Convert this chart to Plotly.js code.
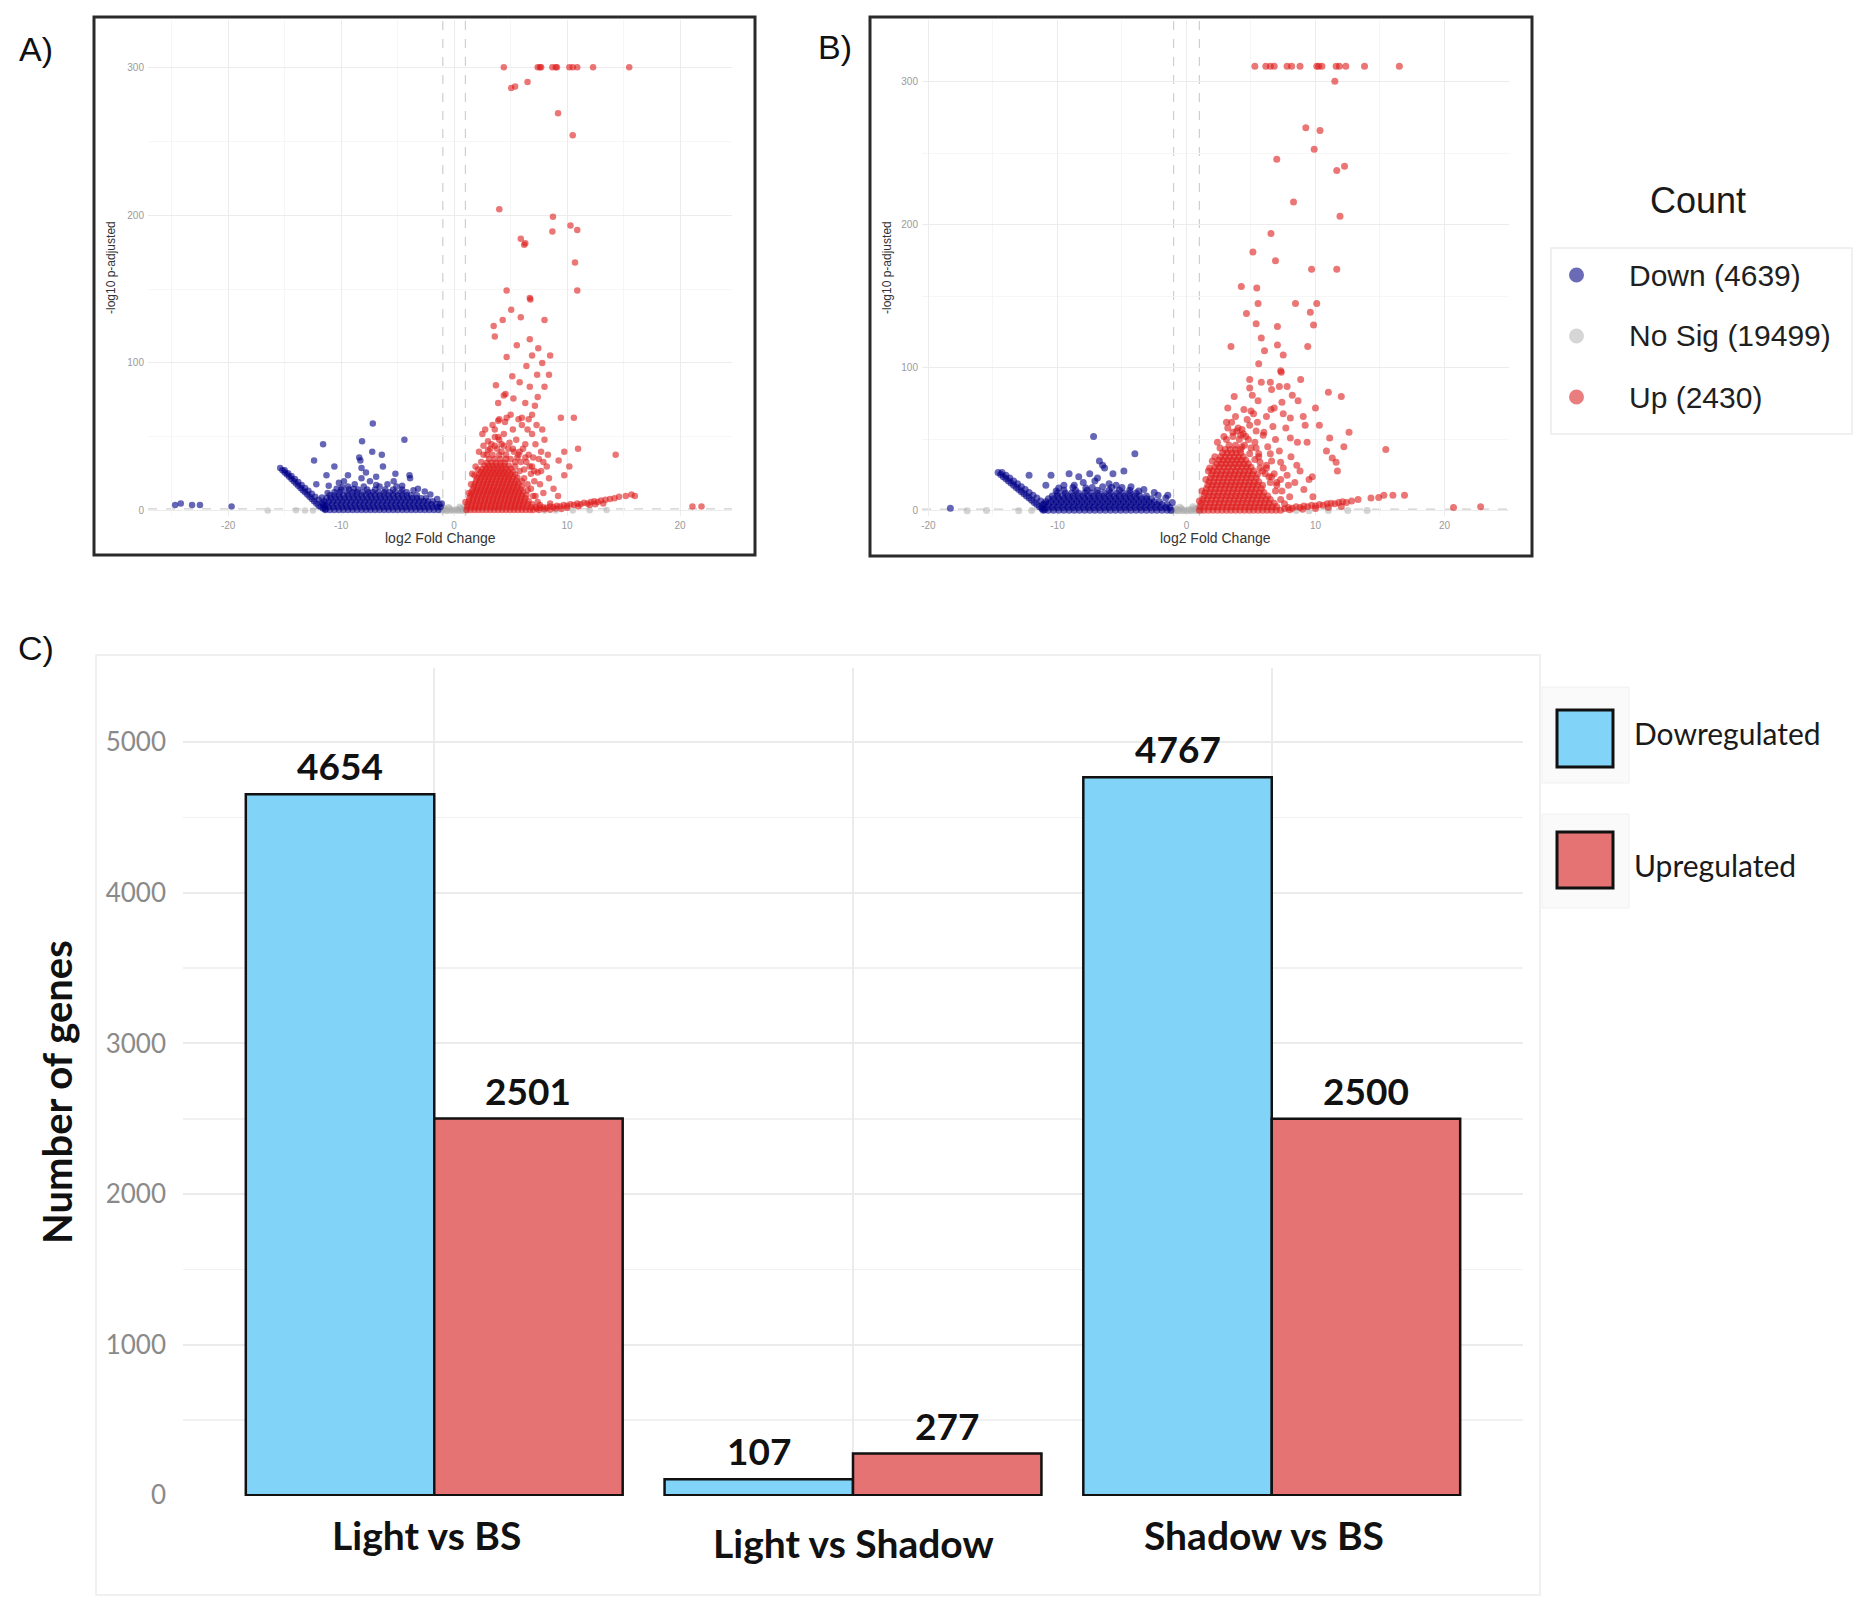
<!DOCTYPE html>
<html>
<head>
<meta charset="utf-8">
<script src="https://cdn.plot.ly/plotly-3.0.1.min.js"></script>
<style>
  html, body { margin: 0; padding: 0; background: #ffffff; }
  #fig { width: 1866px; height: 1606px; }
</style>
</head>
<body>
<div id="fig"></div>
<script>
// ---------------- Volcano plot A: log2 fold change vs -log10 adjusted p ----------------
// isolated points as [log2FC, -log10 padj]; dense bands as [y, [x, x, ...]]
const aNsPts = [[-1.0,0.5],[-0.8,1.0],[-0.6,0.3],[-0.4,1.5],[-0.2,0.7],[0.0,0.2],[0.2,1.1],[0.4,0.4],[0.6,1.6],[0.8,0.6],[1.0,0.9],[-0.9,2.0],[0.9,2.2],[-0.5,2.5],[0.5,2.8],[-12.5,0.3],[-13.2,0.2],[-14.0,0.4],[-16.5,0.2],[8.0,0.3],[9.0,0.2],[10.5,0.3],[12.0,0.4],[13.5,0.5],[1.1,0.3],[-1.1,0.2],[-0.3,0.1],[0.3,0.2],[-0.7,0.1],[0.7,0.1]];

const aDownPts = [[-24.7,4],[-24.2,5],[-23.2,4],[-22.5,4],[-19.7,3],
  [-15.4,29],[-15.2,27.5],[-15.0,26],[-14.8,24.5],[-14.6,23],[-14.4,21.5],[-14.2,20],[-14.0,18.5],[-13.8,17],[-13.6,15.5],[-13.4,14],[-13.2,12.5],[-13.0,11],[-12.8,9.5],[-12.6,8],[-12.4,6.5],[-12.2,5],[-12.0,3.5],[-11.8,2.5],[-11.6,1.5],[-11.4,1],
  [-15.0,27.5],[-14.7,25.5],[-14.4,23.5],[-14.1,21.5],[-13.8,19.5],[-13.5,17.5],[-13.2,15.5],[-12.9,13.5],[-12.6,11.5],[-12.3,9.5],[-12.0,7.5],[-11.7,5.5],[-11.4,3.5],
  [-7.2,59],[-4.4,48],[-8.15,47],[-11.6,45],[-7.25,40],[-6.4,38],[-12.4,34],[-8.4,36],[-8.3,34],[-10.6,30],[-8.2,29],[-6.3,30],[-9.4,24],[-11.3,24],[-5.2,25],[-3.95,24],[-3.9,22],[-8.2,22],[-7.45,20],[-9.75,20],[-12.2,18],[-11.1,17],[-8.9,15],[-5.35,20],[-7.8,26],[-6.9,23],[-5.9,18],[-10.2,19],[-4.6,17],[-3.2,15],[-2.6,13],[-9.9,16],
  [-1.1,5],[-1.5,8],[-2.1,11],[-3.6,14],[-6.9,17.5],[-8.8,18],[-10.4,15],[-11.2,12],[-11.7,9]];
const aDownRows = [
  [0.5, [-11.4,-11.0,-10.6,-10.2,-9.8,-9.4,-9.0,-8.6,-8.2,-7.8,-7.4,-7.0,-6.6,-6.2,-5.8,-5.4,-5.0,-4.6,-4.2,-3.8,-3.4,-3.0,-2.6,-2.2,-1.8,-1.4]],
  [2.5, [-11.5,-11.1,-10.7,-10.3,-9.9,-9.5,-9.1,-8.7,-8.3,-7.9,-7.5,-7.1,-6.7,-6.3,-5.9,-5.5,-5.1,-4.7,-4.3,-3.9,-3.5,-3.1,-2.7,-2.3,-1.9,-1.5,-1.2]],
  [4.5, [-11.6,-11.2,-10.8,-10.4,-10.0,-9.6,-9.2,-8.8,-8.4,-8.0,-7.6,-7.2,-6.8,-6.4,-6.0,-5.6,-5.2,-4.8,-4.4,-4.0,-3.6,-3.2,-2.8,-2.4,-2.0,-1.6,-1.3]],
  [6.5, [-11.5,-11.1,-10.7,-10.3,-9.9,-9.5,-9.1,-8.7,-8.3,-7.9,-7.5,-7.1,-6.7,-6.3,-5.9,-5.5,-5.1,-4.7,-4.3,-3.9,-3.5,-3.1,-2.7,-2.3,-1.9]],
  [8.5, [-11.3,-10.9,-10.5,-10.1,-9.7,-9.3,-8.9,-8.5,-8.1,-7.7,-7.3,-6.9,-6.5,-6.1,-5.7,-5.3,-4.9,-4.5,-4.1,-3.7,-3.3,-2.9,-2.5]],
  [10.5, [-11.0,-10.6,-10.2,-9.8,-9.4,-9.0,-8.6,-8.2,-7.8,-7.4,-7.0,-6.6,-6.2,-5.8,-5.4,-5.0,-4.6,-4.2,-3.8,-3.3]],
  [12.5, [-10.6,-10.1,-9.5,-9.0,-8.6,-8.1,-7.6,-7.2,-6.7,-6.2,-5.7,-5.2,-4.7,-4.2]],
  [14.5, [-10.0,-9.3,-8.5,-7.7,-7.0,-6.1,-5.4,-4.6]],
  [16.5, [-9.4,-8.0,-6.6,-5.1]]
];

const aUpPts = [
  [4.4,300],[7.4,300],[7.6,300],[7.7,300],[8.7,300],[9.0,300],[9.1,300],[10.2,300],[10.5,300],[10.9,300],[12.3,300],[15.5,300],
  [5.05,286],[5.4,287],[6.5,290],[9.2,269],[10.5,254],[4.0,204],[8.75,199],[10.3,193],[10.9,190],[8.7,189],[5.9,184],[6.2,180],[6.3,181],[10.7,168],[4.65,149],[10.9,149],[6.7,144],[6.75,143],[5.05,136],[4.3,129],[5.9,131],[8.0,129],[3.5,125],[3.6,118],[6.7,116],[5.55,112],[7.45,110],[4.65,104],[6.9,105],[8.5,105],[6.4,98],[7.8,100],[5.15,91],[5.8,87],[7.35,92],[8.4,92],[3.7,85],[6.7,84],[8.0,84],[4.4,78],[4.55,79],[7.4,77],[5.25,76],[6.3,73],[7.15,71],[3.9,73],[6.9,65],[9.45,63],[10.6,63],[3.9,61],[4.65,63],[6.0,63],[6.6,62],[2.75,55],[9.75,40],[10.97,42],[14.3,38],[9.25,34],[10.2,30],[9.75,24],[7.7,27],
  [2.5,52],[3.0,47],[3.4,58],[3.6,55],[3.9,50],[4.2,45],[4.5,60],[4.8,42],[5.2,55],[5.5,48],[5.8,40],[6.0,58],[6.3,45],[6.6,38],[6.9,52],[7.2,45],[7.5,35],[7.8,55],[8.0,48],[8.2,30],[6.2,28],[6.8,25],[7.1,20],[7.6,18],[7.9,12],[8.4,22],[5.9,33],[2.2,40],[1.9,30],[2.6,44],[3.2,42],[4.0,62],[4.4,52],[5.0,65],[5.7,62],[6.5,55],[7.3,58],[7.7,40],[8.3,38],[1.6,25],[8.8,15],[9.2,10],[6.0,20],[5.4,30],[7.0,10],[6.5,14],[8.5,5],
  [5.6,36],[6.1,42],[6.4,33],[6.9,30],[7.4,26],[5.3,40],[4.9,46],[3.6,44],[2.9,38],[7.0,36],[7.9,33],
  [1.0,6],[1.3,12],[1.5,18],[1.8,24],[2.1,28],[2.4,33],[2.6,38],[3.0,41],[3.3,45],[3.8,42],[4.2,40],[4.6,38],[5.0,35],[5.4,33],[5.8,27],[6.2,22],[6.5,18],[6.8,15],[7.2,10],[7.4,6],[7.6,4],[4.0,48],[3.6,50],[4.4,44],[5.2,42],[5.7,38],[6.3,36],[6.7,30],[7.1,27],
  [7.3,1.5],[7.6,2],[7.9,2.5],[8.2,2],[8.5,3],[8.8,2.5],[9.1,3.5],[9.4,3],[9.7,4],[10.0,3.5],[10.3,4.5],[10.6,4],[10.9,5],[11.2,4.5],[11.5,5.5],[11.8,5],[12.1,6],[12.4,6.5],[12.7,6],[13.0,7],[13.4,7.5],[13.8,8],[14.2,8.5],[14.6,9.5],[15.2,10],[15.7,11],[16.0,10],[7.5,0.5],[8.0,1],[9.0,1.5],[10.0,2],[11.0,3],[12.0,4],[8.5,0.8],[9.5,1.2],[13.2,5],[12.5,4.5],
  [21.1,3],[21.9,3]];
const aUpRows = [
  [0.5, [1.1,1.45,1.8,2.15,2.5,2.85,3.2,3.55,3.9,4.25,4.6,4.95,5.3,5.65,6.0,6.35,6.7,7.0]],
  [2.5, [1.15,1.5,1.85,2.2,2.55,2.9,3.25,3.6,3.95,4.3,4.65,5.0,5.35,5.7,6.05,6.4,6.8,7.2]],
  [4.5, [1.2,1.55,1.9,2.25,2.6,2.95,3.3,3.65,4.0,4.35,4.7,5.05,5.4,5.75,6.1,6.5,6.9]],
  [6.5, [1.3,1.65,2.0,2.35,2.7,3.05,3.4,3.75,4.1,4.45,4.8,5.15,5.5,5.85,6.2,6.6]],
  [8.5, [1.35,1.7,2.05,2.4,2.75,3.1,3.45,3.8,4.15,4.5,4.85,5.2,5.55,5.9,6.3]],
  [10.5, [1.45,1.8,2.15,2.5,2.85,3.2,3.55,3.9,4.25,4.6,4.95,5.3,5.65,6.0,6.4]],
  [12.5, [1.55,1.9,2.25,2.6,2.95,3.3,3.65,4.0,4.35,4.7,5.05,5.4,5.75,6.1]],
  [14.5, [1.65,2.0,2.35,2.7,3.05,3.4,3.75,4.1,4.45,4.8,5.15,5.5,5.9]],
  [16.5, [1.75,2.1,2.45,2.8,3.15,3.5,3.85,4.2,4.55,4.9,5.25,5.6,6.0]],
  [18.5, [1.85,2.2,2.55,2.9,3.25,3.6,3.95,4.3,4.65,5.0,5.35,5.7]],
  [20.5, [1.95,2.3,2.65,3.0,3.35,3.7,4.05,4.4,4.75,5.1,5.5]],
  [22.5, [2.05,2.4,2.75,3.1,3.45,3.8,4.15,4.5,4.85,5.2,5.6]],
  [24.5, [2.2,2.55,2.9,3.25,3.6,3.95,4.3,4.65,5.0,5.4]],
  [26.5, [2.35,2.7,3.05,3.4,3.75,4.1,4.45,4.8,5.2]],
  [28.5, [2.5,2.85,3.2,3.55,3.9,4.25,4.6,5.0]],
  [30.5, [2.7,3.05,3.4,3.75,4.1,4.45,4.85]],
  [32.5, [2.9,3.3,3.7,4.1,4.5]],
  [35.0, [3.1,3.6,4.1,4.6]],
  [38.0, [3.4,4.0]]
];

// ---------------- Volcano plot B ----------------
const bNsPts = [[-1.0,0.4],[-0.8,1.1],[-0.6,0.3],[-0.4,1.6],[-0.2,0.6],[0.0,0.2],[0.2,1.0],[0.4,0.5],[0.6,1.5],[0.8,0.7],[1.0,0.8],[-0.9,2.1],[0.9,2.3],[-0.5,2.6],[0.5,2.9],[-12.0,0.3],[-13.0,0.2],[-15.5,0.3],[-17.0,0.2],[8.5,0.3],[9.5,0.2],[11.0,0.3],[12.5,0.4],[14.0,0.4],[1.1,0.3],[-1.1,0.2],[-0.3,0.1],[0.3,0.2],[-0.7,0.1],[0.7,0.1]];

const bDownPts = [[-18.3,2],
  [-14.6,27],[-14.4,25.5],[-14.2,24],[-14.0,22.5],[-13.8,21],[-13.6,19.5],[-13.4,18],[-13.2,16.5],[-13.0,15],[-12.8,13.5],[-12.6,12],[-12.4,10.5],[-12.2,9],[-12.0,7.5],[-11.8,6],[-11.6,4.5],[-11.4,3],[-11.2,1.5],[-11.0,0.8],
  [-14.3,27],[-14.0,25],[-13.7,23],[-13.4,21],[-13.1,19],[-12.8,17],[-12.5,15],[-12.2,13],[-11.9,11],[-11.6,9],[-11.3,7],[-11.0,5],
  [-7.2,52],[-4.0,40],[-6.75,35],[-6.5,32],[-6.35,30],[-12.2,25],[-10.5,25],[-9.1,26],[-8.35,24],[-7.5,26],[-6.9,23],[-5.7,26],[-4.85,28],[-10.9,18],[-9.5,18],[-5.45,18],[-1.45,11],[-8.0,20],[-7.1,21],[-6.0,19],[-4.3,17],[-3.3,15],[-2.5,13],[-9.9,16],[-8.7,18],
  [-1.1,6],[-1.6,9],[-2.2,11],[-3.7,14],[-5.0,16.5],[-6.5,17],[-7.8,16],[-10.1,14]];
const bDownRows = [
  [0.5, [-11.1,-10.7,-10.3,-9.9,-9.5,-9.1,-8.7,-8.3,-7.9,-7.5,-7.1,-6.7,-6.3,-5.9,-5.5,-5.1,-4.7,-4.3,-3.9,-3.5,-3.1,-2.7,-2.3,-1.9,-1.5,-1.2]],
  [2.5, [-11.2,-10.8,-10.4,-10.0,-9.6,-9.2,-8.8,-8.4,-8.0,-7.6,-7.2,-6.8,-6.4,-6.0,-5.6,-5.2,-4.8,-4.4,-4.0,-3.6,-3.2,-2.8,-2.4,-2.0,-1.6,-1.3]],
  [4.5, [-11.1,-10.7,-10.3,-9.9,-9.5,-9.1,-8.7,-8.3,-7.9,-7.5,-7.1,-6.7,-6.3,-5.9,-5.5,-5.1,-4.7,-4.3,-3.9,-3.5,-3.1,-2.7,-2.3,-1.9,-1.5]],
  [6.5, [-10.9,-10.5,-10.1,-9.7,-9.3,-8.9,-8.5,-8.1,-7.7,-7.3,-6.9,-6.5,-6.1,-5.7,-5.3,-4.9,-4.5,-4.1,-3.7,-3.3,-2.9,-2.5,-2.1]],
  [8.5, [-10.7,-10.3,-9.9,-9.5,-9.1,-8.7,-8.3,-7.9,-7.5,-7.1,-6.7,-6.3,-5.9,-5.5,-5.1,-4.7,-4.3,-3.9,-3.5,-3.1,-2.7]],
  [10.5, [-10.4,-10.0,-9.6,-9.2,-8.8,-8.4,-8.0,-7.6,-7.2,-6.8,-6.4,-6.0,-5.6,-5.2,-4.8,-4.4,-4.0,-3.6,-3.1]],
  [12.5, [-10.0,-9.4,-8.9,-8.4,-7.9,-7.4,-6.9,-6.4,-5.9,-5.4,-4.9,-4.4,-3.9]],
  [14.5, [-9.5,-8.6,-7.7,-6.9,-6.0,-5.2,-4.4]],
  [16.5, [-8.8,-7.3,-5.8]]
];

const bUpPts = [
  [5.3,311],[6.15,311],[6.5,311],[6.8,311],[7.8,311],[8.15,311],[8.8,311],[10.1,311],[10.25,311],[10.5,311],[11.6,311],[11.85,311],[12.35,311],[13.8,311],[16.5,311],
  [11.5,300.5],[9.25,268],[10.35,266],[9.9,253],[7.0,246],[11.65,238],[12.25,241],[8.3,216],[11.9,206],[6.55,194],[5.15,181],[6.9,175],[9.7,169],[11.65,169],[4.25,157],[5.45,156],[8.45,145],[10.1,145],[5.55,145],[4.65,138],[9.6,139],[5.4,131],[7.05,129],[9.85,130],[5.8,121],[3.45,115],[7.05,116],[9.4,115],[6.05,112],[7.5,109],[5.6,103],[7.3,98],[7.35,97],[4.9,92],[5.8,90],[6.5,90],[7.2,87],[7.8,87],[8.85,92],[4.9,86],[6.6,85],[3.7,80],[11.0,83],[12.0,80],[5.1,81],[8.2,81],[5.55,77],[7.4,76],[8.65,77],[3.2,72],[4.45,71],[5.2,68],[6.55,71],[7.5,68],[8.05,65],[10.0,72],[9.05,66],[3.8,66],[3.1,62],[4.3,57],[5.4,56],[6.7,59],[5.95,53],[12.6,55],[11.1,51],[8.05,51],[9.35,48],[10.85,42],[15.45,43],[11.6,34],[7.3,34],[9.75,24],[8.55,32],
  [2.4,48],[2.9,52],[3.2,58],[3.6,55],[4.3,45],[4.6,52],[4.9,60],[5.3,48],[5.6,40],[6.0,55],[6.3,45],[6.6,35],[6.9,50],[7.2,42],[7.5,30],[7.8,25],[8.1,38],[8.4,20],[8.8,28],[9.1,15],[9.5,22],[5.9,28],[6.4,24],[7.0,20],[7.4,14],[8.0,10],[2.0,35],[1.7,28],[4.0,58],[4.7,64],[5.5,62],[6.2,66],[7.7,58],[3.5,62],[5.0,70],[6.8,72],[8.6,48],[9.8,10],[10.3,60],[11.7,28],[12.2,45],[11.3,37],[9.2,60],
  [5.7,34],[6.2,30],[6.8,26],[7.3,22],[5.4,44],[4.8,50],[4.2,53],[6.5,40],[7.9,18],
  [1.0,7],[1.2,14],[1.5,22],[1.8,30],[2.2,38],[2.6,44],[3.1,50],[3.6,52],[4.1,50],[4.5,46],[4.9,40],[5.3,36],[5.7,30],[6.1,26],[6.5,20],[6.9,14],[7.3,8],[7.6,5],[3.9,56],[4.4,54],[5.0,44],[5.6,38],[6.2,32],[6.6,24],[7.0,18],
  [7.6,1.5],[7.9,2.5],[8.2,2],[8.5,3],[8.8,2.5],[9.1,3.5],[9.4,3],[9.7,4],[10.0,3.5],[10.3,4.5],[10.6,4],[10.9,5],[11.2,5.5],[11.5,5],[11.8,6],[12.1,6.5],[12.4,6],[12.8,7],[13.3,8],[14.3,9],[14.9,9.5],[15.3,11],[16.0,11],[16.9,11],[8.0,0.8],[9.0,1.2],[10.0,1.8],[11.0,2.5],[12.0,3.2],
  [20.7,2.5],[22.8,3]];
const bUpRows = [
  [0.5, [1.0,1.35,1.7,2.05,2.4,2.75,3.1,3.45,3.8,4.15,4.5,4.85,5.2,5.55,5.9,6.25,6.6,6.95,7.3]],
  [3.0, [1.05,1.4,1.75,2.1,2.45,2.8,3.15,3.5,3.85,4.2,4.55,4.9,5.25,5.6,5.95,6.3,6.65,7.0]],
  [5.5, [1.15,1.5,1.85,2.2,2.55,2.9,3.25,3.6,3.95,4.3,4.65,5.0,5.35,5.7,6.05,6.4,6.8]],
  [8.0, [1.25,1.6,1.95,2.3,2.65,3.0,3.35,3.7,4.05,4.4,4.75,5.1,5.45,5.8,6.15,6.5]],
  [10.5, [1.35,1.7,2.05,2.4,2.75,3.1,3.45,3.8,4.15,4.5,4.85,5.2,5.55,5.9,6.3]],
  [13.0, [1.45,1.8,2.15,2.5,2.85,3.2,3.55,3.9,4.25,4.6,4.95,5.3,5.65,6.0]],
  [15.5, [1.55,1.9,2.25,2.6,2.95,3.3,3.65,4.0,4.35,4.7,5.05,5.4,5.8]],
  [18.0, [1.65,2.0,2.35,2.7,3.05,3.4,3.75,4.1,4.45,4.8,5.15,5.5,5.9]],
  [20.5, [1.75,2.1,2.45,2.8,3.15,3.5,3.85,4.2,4.55,4.9,5.25,5.6]],
  [23.0, [1.85,2.2,2.55,2.9,3.25,3.6,3.95,4.3,4.65,5.0,5.4]],
  [25.5, [1.95,2.3,2.65,3.0,3.35,3.7,4.05,4.4,4.75,5.1,5.5]],
  [28.0, [2.05,2.4,2.75,3.1,3.45,3.8,4.15,4.5,4.85,5.2]],
  [30.5, [2.2,2.55,2.9,3.25,3.6,3.95,4.3,4.65,5.0]],
  [33.0, [2.35,2.7,3.05,3.4,3.75,4.1,4.45,4.8]],
  [35.5, [2.5,2.85,3.2,3.55,3.9,4.25,4.6]],
  [38.0, [2.65,3.0,3.35,3.7,4.05,4.4]],
  [40.5, [2.8,3.15,3.5,3.85,4.2]],
  [43.0, [3.0,3.4,3.8,4.2]],
  [46.0, [3.3,3.8]]
];

// significance cut-offs drawn as dashed guides
const lfcCutoffs = [-1, 1];
const padjCutoff = 1.3;

// legend of the volcano plots
const volcanoGroups = ['Down', 'No Sig', 'Up'];
const volcanoCounts = [4639, 19499, 2430];

// axis ticks of the volcano plots
const fcTicks = [-20, -10, 0, 10, 20];
const fcTickText = ['-20', '-10', '0', '10', '20'];
const padjTicks = [0, 100, 200, 300];

// ---------------- Bar chart C ----------------
const comparisons = ['Light vs BS', 'Light vs Shadow', 'Shadow vs BS'];
const downCounts = [4654, 107, 4767];
const upCounts = [2501, 277, 2500];
const barSeries = ['Dowregulated', 'Upregulated'];

// ---------------- page geometry helpers (pixels -> paper fractions) ----------------
const W = 1866, H = 1606;
const fx = v => v / W;
const fy = v => 1 - v / H;

function collect(pts, rows) {
  const xs = [], ys = [];
  pts.forEach(p => { xs.push(p[0]); ys.push(p[1]); });
  rows.forEach(r => r[1].forEach(x => { xs.push(x); ys.push(r[0]); }));
  return { xs, ys };
}

const colDown = 'rgba(0,0,135,0.6)';
const colUp = 'rgba(222,26,26,0.6)';
const colNs = 'rgba(170,170,170,0.5)';

function volcanoTraces(ns, down, up, xa, ya, size) {
  const mk = (d, c) => ({
    type: 'scatter', mode: 'markers', x: d.xs, y: d.ys, xaxis: xa, yaxis: ya,
    marker: { color: c, size: size, line: { width: 0 } },
    hoverinfo: 'x+y', showlegend: false, cliponaxis: false
  });
  return [mk(ns, colNs), mk(down, colDown), mk(up, colUp)];
}

const traces = [
  ...volcanoTraces(collect(aNsPts, []), collect(aDownPts, aDownRows), collect(aUpPts, aUpRows), 'x', 'y', 6.5),
  ...volcanoTraces(collect(bNsPts, []), collect(bDownPts, bDownRows), collect(bUpPts, bUpRows), 'x2', 'y2', 7),
  {
    type: 'bar', name: barSeries[0], x: comparisons, y: downCounts, xaxis: 'x3', yaxis: 'y3',
    marker: { color: '#81D3F8', line: { color: '#111111', width: 2.5 } }, showlegend: false
  },
  {
    type: 'bar', name: barSeries[1], x: comparisons, y: upCounts, xaxis: 'x3', yaxis: 'y3',
    marker: { color: '#E57373', line: { color: '#111111', width: 2.5 } }, showlegend: false
  }
];

// plot areas in page pixels
const boxA = { l: 148, r: 732, t: 20, b: 516 };
const boxB = { l: 922, r: 1509, t: 20, b: 516 };
const boxC = { l: 183, r: 1523, t: 668, b: 1496 };

const volcFont = 'Liberation Sans, Arial, sans-serif';
const barFont = 'Lato, Open Sans, sans-serif';

function volcX(box, range) {
  return {
    domain: [fx(box.l), fx(box.r)], range: range,
    tickvals: fcTicks, ticktext: fcTickText, ticks: '', showline: false, zeroline: false,
    showgrid: true, gridcolor: '#ececec', gridwidth: 1,
    minor: { dtick: 5, tick0: 0, showgrid: true, gridcolor: '#f6f6f6', gridwidth: 1 },
    tickfont: { family: volcFont, size: 10, color: '#9a9a9a' }, ticklabelstandoff: 2
  };
}
function volcY(box, range) {
  return {
    domain: [fy(box.b), fy(box.t)], range: range,
    tickvals: padjTicks, ticks: '', showline: false, zeroline: false,
    showgrid: true, gridcolor: '#ececec', gridwidth: 1,
    minor: { dtick: 50, tick0: 0, showgrid: true, gridcolor: '#f6f6f6', gridwidth: 1 },
    tickfont: { family: volcFont, size: 10, color: '#9a9a9a' }, ticklabelstandoff: 3
  };
}

const xA = volcX(boxA, [-27.1, 24.6]); xA.anchor = 'y';
const yA = volcY(boxA, [-3.5, 332]); yA.anchor = 'x';
const xB = volcX(boxB, [-20.5, 25.0]); xB.anchor = 'y2';
const yB = volcY(boxB, [-3.5, 343.3]); yB.anchor = 'x2';

// bar chart geometry used for value labels
const catPx = (boxC.r - boxC.l) / 3.2;
const barPx = catPx * 0.45;

const shapes = [];
const annotations = [];

// dashed cut-off guides on both volcano plots
[['x', 'y'], ['x2', 'y2']].forEach(([xa, ya]) => {
  lfcCutoffs.forEach(c => shapes.push({
    type: 'line', xref: xa, x0: c, x1: c, yref: ya + ' domain', y0: 0, y1: 1,
    line: { color: '#cfcfcf', width: 1.2, dash: 'dash' }, layer: 'below'
  }));
  shapes.push({
    type: 'line', xref: xa + ' domain', x0: 0, x1: 1, yref: ya, y0: padjCutoff, y1: padjCutoff,
    line: { color: '#cfcfcf', width: 1.2, dash: 'dash' }, layer: 'below'
  });
});

// frames around the two volcano panels
shapes.push({ type: 'rect', xref: 'paper', yref: 'paper', x0: fx(94), x1: fx(755), y0: fy(555), y1: fy(17),
  line: { color: '#2a2a2a', width: 3 }, fillcolor: 'rgba(0,0,0,0)' });
shapes.push({ type: 'rect', xref: 'paper', yref: 'paper', x0: fx(870), x1: fx(1532), y0: fy(556), y1: fy(17),
  line: { color: '#2a2a2a', width: 3 }, fillcolor: 'rgba(0,0,0,0)' });

// light outline of the bar chart area
shapes.push({ type: 'rect', xref: 'paper', yref: 'paper', x0: fx(96), x1: fx(1540), y0: fy(1595), y1: fy(655),
  line: { color: '#ececec', width: 1.5 }, fillcolor: 'rgba(0,0,0,0)', layer: 'below' });

// panel letters
[['A)', 36, 49], ['B)', 835, 47], ['C)', 36, 648]].forEach(([t, x, y]) => annotations.push({
  text: t, xref: 'paper', yref: 'paper', x: fx(x), y: fy(y), xanchor: 'center', yanchor: 'middle',
  showarrow: false, font: { family: volcFont, size: 34, color: '#111111' }
}));

// volcano axis titles
[[440, 268, 111], [1215, 268, 887]].forEach(([cx, cy, yx]) => {
  annotations.push({ text: 'log2 Fold Change', xref: 'paper', yref: 'paper', x: fx(cx), y: fy(538),
    xanchor: 'center', yanchor: 'middle', showarrow: false, font: { family: volcFont, size: 14, color: '#333333' } });
  annotations.push({ text: '-log10 p-adjusted', xref: 'paper', yref: 'paper', x: fx(yx), y: fy(cy), textangle: -90,
    xanchor: 'center', yanchor: 'middle', showarrow: false, font: { family: volcFont, size: 12, color: '#333333' } });
});

// volcano legend
annotations.push({ text: 'Count', xref: 'paper', yref: 'paper', x: fx(1698), y: fy(200), xanchor: 'center', yanchor: 'middle',
  showarrow: false, font: { family: volcFont, size: 36, color: '#1a1a1a' } });
shapes.push({ type: 'rect', xref: 'paper', yref: 'paper', x0: fx(1551), x1: fx(1852), y0: fy(434), y1: fy(248),
  line: { color: '#ececec', width: 1.5 }, fillcolor: '#ffffff' });
const legendDots = ['#6a6ab6', '#d6d6d6', '#ea7d7d'];
const legendRowsY = [275, 336, 397];
volcanoGroups.forEach((g, i) => {
  const cy = legendRowsY[i];
  shapes.push({ type: 'circle', xref: 'paper', yref: 'paper', x0: fx(1569), x1: fx(1584), y0: fy(cy + 7.5), y1: fy(cy - 7.5),
    fillcolor: legendDots[i], line: { width: 0 } });
  annotations.push({ text: g + ' (' + volcanoCounts[i] + ')', xref: 'paper', yref: 'paper', x: fx(1627), y: fy(cy),
    xanchor: 'left', yanchor: 'middle', showarrow: false, font: { family: volcFont, size: 30, color: '#1f1f1f' } });
});

// bar value labels
comparisons.forEach((c, i) => {
  [[downCounts[i], -barPx / 2], [upCounts[i], barPx / 2]].forEach(([v, dx]) => annotations.push({
    text: String(v), xref: 'x3', yref: 'y3', x: c, y: v, xshift: dx, yshift: 4,
    xanchor: 'center', yanchor: 'bottom', showarrow: false,
    font: { family: barFont, size: 37, color: '#111111', weight: 'bold' }
  }));
});

// category labels under the bars
const catLabelY = [1535, 1543, 1535];
comparisons.forEach((c, i) => annotations.push({
  text: c, xref: 'x3', yref: 'paper', x: c, y: fy(catLabelY[i]), xshift: i === 1 ? 0 : -8, xanchor: 'center', yanchor: 'middle',
  showarrow: false, font: { family: barFont, size: 39, color: '#111111', weight: 'bold' }
}));

// bar y-axis title
annotations.push({ text: 'Number of genes', xref: 'paper', yref: 'paper', x: fx(57), y: fy(1092), textangle: -90,
  xanchor: 'center', yanchor: 'middle', showarrow: false, font: { family: barFont, size: 40, color: '#111111', weight: 'bold' } });

// bar legend
const barKeyColors = ['#81D3F8', '#E57373'];
const barKeyBg = [[687, 783], [814, 908]];
const barKeySq = [[710, 767], [832, 888]];
const barKeyTextY = [733, 865];
barSeries.forEach((s, i) => {
  shapes.push({ type: 'rect', xref: 'paper', yref: 'paper', x0: fx(1542), x1: fx(1629), y0: fy(barKeyBg[i][1]), y1: fy(barKeyBg[i][0]),
    fillcolor: '#fafafa', line: { color: '#f0f0f0', width: 1 } });
  shapes.push({ type: 'rect', xref: 'paper', yref: 'paper', x0: fx(1557), x1: fx(1613), y0: fy(barKeySq[i][1]), y1: fy(barKeySq[i][0]),
    fillcolor: barKeyColors[i], line: { color: '#111111', width: 3 } });
  annotations.push({ text: s, xref: 'paper', yref: 'paper', x: fx(1632), y: fy(barKeyTextY[i]), xanchor: 'left', yanchor: 'middle',
    showarrow: false, font: { family: barFont, size: 30, color: '#1a1a1a' } });
});

const layout = {
  width: W, height: H,
  margin: { l: 0, r: 0, t: 0, b: 0, pad: 0 },
  paper_bgcolor: '#ffffff', plot_bgcolor: '#ffffff',
  showlegend: false,
  barmode: 'group', bargap: 0.1, bargroupgap: 0,
  xaxis: xA, yaxis: yA, xaxis2: xB, yaxis2: yB,
  xaxis3: {
    domain: [fx(boxC.l), fx(boxC.r)], anchor: 'y3', type: 'category', range: [-0.6, 2.6],
    showticklabels: false, ticks: '', showline: false, zeroline: false,
    showgrid: true, gridcolor: '#ebebeb', gridwidth: 2
  },
  yaxis3: {
    domain: [fy(boxC.b), fy(boxC.t)], anchor: 'x3', range: [-5, 5493],
    tick0: 0, dtick: 1000, ticks: '', showline: false, zeroline: false,
    showgrid: true, gridcolor: '#ebebeb', gridwidth: 2,
    minor: { dtick: 500, tick0: 0, showgrid: true, gridcolor: '#f1f1f1', gridwidth: 1.5 },
    tickfont: { family: barFont, size: 26, color: '#8a8a8a' }, ticklabelstandoff: 16
  },
  shapes: shapes,
  annotations: annotations
};

Plotly.newPlot('fig', traces, layout, { staticPlot: true, displayModeBar: false });
</script>
</body>
</html>
